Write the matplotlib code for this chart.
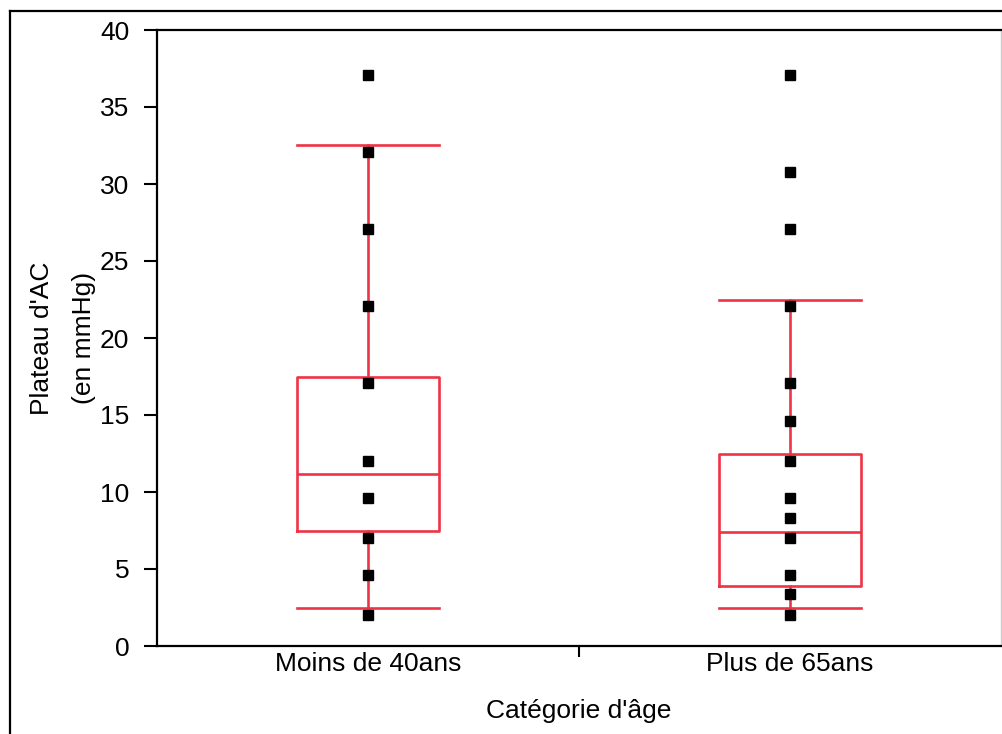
import matplotlib
matplotlib.use("Agg")
import matplotlib.pyplot as plt
from matplotlib.lines import Line2D

plt.rcParams['font.family'] = ['Liberation Sans', 'DejaVu Sans']

# Categories and raw observations
categories = ["Moins de 40ans", "Plus de 65ans"]
points_young = [37.1, 32.1, 27.1, 22.1, 17.1, 12.0, 9.6, 7.0, 4.6, 2.0]
points_old = [37.1, 30.8, 27.1, 22.1, 17.1, 14.6, 12.0, 9.6, 8.3, 7.0, 4.6, 3.4, 2.0]

# Box summary statistics: lower whisker, Q1, median, Q3, upper whisker
whislo = [2.45, 2.45]
q1 = [7.45, 3.9]
med = [11.15, 7.42]
q3 = [17.47, 12.47]
whishi = [32.55, 22.5]

y_ticks = [0, 5, 10, 15, 20, 25, 30, 35, 40]

red = "#EE3346"
fs = 19

fig = plt.figure(figsize=(10.02, 7.34), dpi=100)
W, H = 1002, 734
ax = fig.add_axes([157 / W, 1 - 646 / H, (1001 - 157) / W, (646 - 30) / H])

stats = []
for i, name in enumerate(categories):
    stats.append(dict(label=name, whislo=whislo[i], q1=q1[i], med=med[i],
                      q3=q3[i], whishi=whishi[i], fliers=[]))

line_kw = dict(color=red, linewidth=1.9)
ax.bxp(stats, positions=[0, 1], widths=0.336, showfliers=False,
       boxprops=line_kw, whiskerprops=line_kw, capprops=line_kw,
       medianprops=line_kw, capwidths=0.336, manage_ticks=False)

ax.plot([0] * len(points_young), points_young, 's', color='black',
        markersize=7, zorder=5)
ax.plot([1] * len(points_old), points_old, 's', color='black',
        markersize=7, zorder=5)

ax.set_xlim(-0.5, 1.5)
ax.set_ylim(0, 40)
ax.set_yticks(y_ticks)
ax.set_yticklabels([str(v) for v in y_ticks])

# One divider tick between the groups, category names centred under each box
ax.set_xticks([0.5])
ax.set_xticklabels([""])
ax.set_xticks([0, 1], minor=True)
ax.set_xticklabels(categories, minor=True)
ax.tick_params(axis='x', which='major', length=8, width=1.5, direction='out')
ax.tick_params(axis='x', which='minor', length=0, labelsize=fs, pad=4)
ax.tick_params(axis='y', length=9.5, width=1.5, direction='out', labelsize=fs,
               pad=10.5)

for side in ['left', 'bottom', 'top']:
    ax.spines[side].set_linewidth(1.6)
    ax.spines[side].set_color('black')
ax.spines['right'].set_color('#cccccc')
ax.spines['right'].set_linewidth(1.0)

ax.set_ylabel("Plateau d'AC\n(en mmHg)", fontsize=fs, labelpad=3,
              multialignment='center', linespacing=1.95)
ax.set_xlabel("Catégorie d'âge", fontsize=fs, labelpad=17)

# Outer frame around the whole graphic (left and top edges)
fig.add_artist(Line2D([9.5 / W, 9.5 / W], [0, 1 - 10.5 / H],
                      transform=fig.transFigure, color='black', linewidth=1.6))
fig.add_artist(Line2D([9.5 / W, 1], [1 - 10.5 / H, 1 - 10.5 / H],
                      transform=fig.transFigure, color='black', linewidth=1.6))

fig.savefig("out.png", dpi=100)
